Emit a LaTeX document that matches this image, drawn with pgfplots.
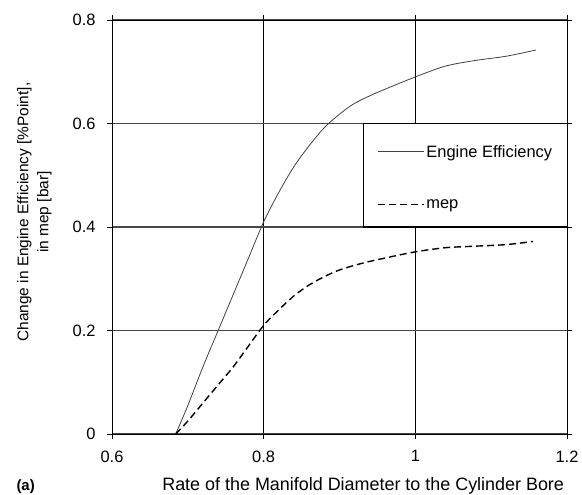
\documentclass[border=0pt]{standalone}
\usepackage{fontspec}
\setmainfont{Liberation Sans}
\usepackage{pgfplots}
\pgfplotsset{compat=1.18}
\usetikzlibrary{calc}

\begin{document}
\begin{tikzpicture}
\begin{axis}[
  width=455bp, height=414bp, scale only axis,
  xmin=0.6, xmax=1.2, ymin=0, ymax=0.8,
  xtick={0.6,0.8,1,1.2},
  ytick={0,0.2,0.4,0.6,0.8},
  /pgf/number format/assume math mode=true,
  xticklabel style={font=\fontsize{16.5}{19}\selectfont, yshift=-8bp},
  yticklabel style={font=\fontsize{16.5}{19}\selectfont, xshift=-8bp},
  tick align=outside, major tick length=5bp,
  tick style={black, line width=0.8pt},
  grid=major,
  x grid style={black, line width=0.7pt},
  y grid style={black!72, line width=1.2pt},
  axis line style={black, line width=0.8pt},
  xlabel={Rate of the Manifold Diameter to the Cylinder Bore},
  xlabel style={font=\fontsize{18}{21}\selectfont, at={(axis description cs:0.552,0)}, anchor=base, yshift=-56bp},
  ylabel={Change in Engine Efficiency [\%Point],\\in mep [bar]},
  ylabel style={font=\fontsize{15.5}{20}\selectfont, align=center, at={(axis description cs:-0.125,0.536)}, anchor=south},
  legend style={at={(rel axis cs:0.582,0.703)}, anchor=north west, draw=none, fill=none,
    inner sep=0pt, row sep=37bp, font=\fontsize{16.5}{19}\selectfont,
    legend cell align=left},
  legend image code/.code={\draw[#1] (0bp,0bp) -- (46bp,0bp);},
]
\coordinate (bl) at (rel axis cs:0,0);
\coordinate (tr) at (rel axis cs:1,1);
% legend frame
\draw[black, line width=0.8pt, fill=white] (rel axis cs:0.552,0.75) rectangle (rel axis cs:1,0.5);
\draw[black, line width=1.5pt] (rel axis cs:0.552,0.5) -- (rel axis cs:1,0.5);

\addplot[black!75, line width=0.8pt, smooth] coordinates {
  (0.684,0) (0.70,0.055) (0.72,0.13) (0.74,0.20) (0.76,0.27) (0.78,0.34)
  (0.80,0.41) (0.82,0.467) (0.84,0.517) (0.86,0.557) (0.88,0.592) (0.90,0.618)
  (0.92,0.639) (0.95,0.66) (1.00,0.69) (1.04,0.711) (1.08,0.722) (1.12,0.73)
  (1.159,0.742)
};
\addlegendentry{Engine Efficiency}
\addplot[black, line width=1.4pt, dash pattern=on 7bp off 4bp, smooth] coordinates {
  (0.684,0) (0.70,0.025) (0.72,0.06) (0.74,0.095) (0.76,0.13) (0.78,0.17)
  (0.80,0.21) (0.82,0.24) (0.84,0.267) (0.86,0.288) (0.88,0.304) (0.90,0.317)
  (0.93,0.33) (0.96,0.34) (1.00,0.352) (1.04,0.36) (1.08,0.363) (1.12,0.366)
  (1.155,0.372)
};
\addlegendentry{mep}
\end{axis}
\node[font=\bfseries\fontsize{15}{18}\selectfont, anchor=base west] at ($(bl)+(-99bp,-56bp)$) {(a)};
\pgfresetboundingbox
\path[use as bounding box] ($(bl)+(-112bp,-61bp)$) rectangle ($(tr)+(15bp,20bp)$);
\end{tikzpicture}
\end{document}
